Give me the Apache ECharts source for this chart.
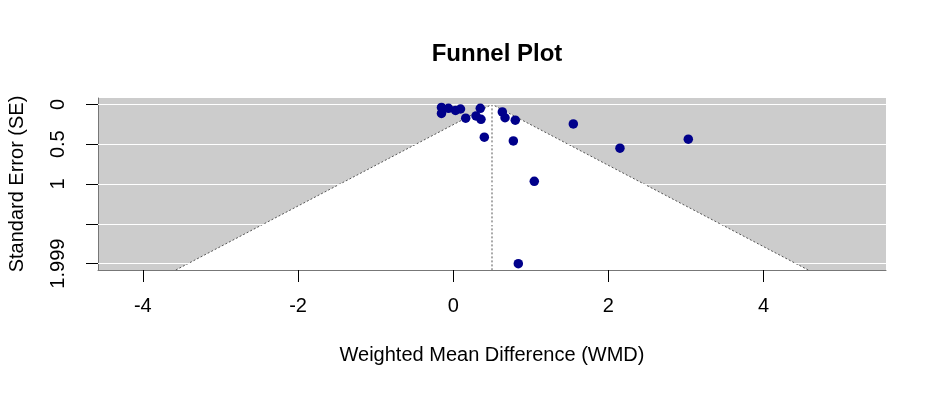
<!DOCTYPE html>
<html>
<head>
<meta charset="utf-8">
<script src="https://cdn.jsdelivr.net/npm/echarts@6/dist/echarts.min.js"></script>
<style>
html,body{margin:0;padding:0;background:#fff;}
#chart{width:937px;height:393px;}
</style>
</head>
<body>
<div id="chart"></div>
<script>
// Study effect sizes (WMD) and standard errors
var wmd = [-0.151, -0.151, -0.061, 0.030, 0.094, 0.161, 0.294, 0.349, 0.358, 0.401,
           0.633, 0.668, 0.800, 0.775, 1.548, 2.149, 3.030, 1.045, 0.839];
var se  = [0.039, 0.114, 0.049, 0.076, 0.058, 0.174, 0.145, 0.049, 0.187, 0.412,
           0.095, 0.168, 0.199, 0.459, 0.246, 0.550, 0.437, 0.966, 1.999];
var pooled = 0.50;           // reference line (pooled estimate)
var crit = 1.96;             // 95% pseudo-confidence region
var xTicks = [-4, -2, 0, 2, 4];
var yTicks = [0, 0.5, 1, 1.5, 1.999];
var yLabels = [0, 0.5, 1, 1.999];
var gridLines = [0, 0.5, 1, 1.5, 1.999];

var seMax = Math.max.apply(null, se);
// R-style limits: funnel xlim widened 10%, then 4% axis expansion
var half = crit * seMax;
var xl0 = pooled - half - 0.1 * 2 * half, xl1 = pooled + half + 0.1 * 2 * half;
var xMin = xl0 - 0.04 * (xl1 - xl0), xMax = xl1 + 0.04 * (xl1 - xl0);
var yMin = -0.04 * seMax, yMax = seMax * 1.04;

var points = wmd.map(function (v, i) { return [v, se[i]]; });
var funnel = [[pooled - crit * yMax, yMax], [pooled, 0], [pooled + crit * yMax, yMax]];
var center = [[pooled, 0], [pooled, yMax]];

var chart = echarts.init(document.getElementById('chart'), null, {renderer: 'canvas'});
var FONT = 'Liberation Sans, Arial, sans-serif';
chart.setOption({
  animation: false,
  backgroundColor: '#ffffff',
  title: {
    text: 'Funnel Plot',
    left: 492, top: 37, textAlign: 'center',
    textStyle: {fontFamily: FONT, fontSize: 24, fontWeight: 'bold', color: '#000'}
  },
  grid: {
    left: 98, top: 98, right: 51, bottom: 123,
    containLabel: false, outerBoundsMode: 'none',
    show: true, backgroundColor: '#cccccc', borderWidth: 0
  },
  xAxis: {
    type: 'value', min: xMin, max: xMax,
    name: 'Weighted Mean Difference (WMD)', nameLocation: 'middle', nameGap: 75,
    nameTextStyle: {fontFamily: FONT, fontSize: 20, color: '#000'},
    axisLine: {show: true, onZero: false, lineStyle: {color: '#777', width: 1}},
    axisTick: {show: true, length: 12, customValues: xTicks, lineStyle: {color: '#000'}},
    axisLabel: {customValues: xTicks, margin: 26, fontFamily: FONT, fontSize: 20, color: '#000'},
    splitLine: {show: false}
  },
  yAxis: {
    type: 'value', inverse: true, min: yMin, max: yMax,
    name: 'Standard Error (SE)', nameLocation: 'middle', nameGap: 71,
    nameTextStyle: {fontFamily: FONT, fontSize: 20, color: '#000'},
    axisLine: {show: true, onZero: false, lineStyle: {color: '#777', width: 1}},
    axisTick: {show: true, length: 12, customValues: yTicks, lineStyle: {color: '#000'}},
    axisLabel: {customValues: yLabels, rotate: 90, margin: 30, fontFamily: FONT, fontSize: 20, color: '#000',
      formatter: function (v) { return String(v); }},
    splitLine: {show: false}
  },
  series: [
    {
      type: 'custom', silent: true, z: 1,
      data: [[pooled, yMax]],
      renderItem: function (params, api) {
        var c = api.value(0), b = api.value(1);
        var pts = [api.coord([c - crit * b, b]), api.coord([c, 0]), api.coord([c + crit * b, b])];
        return {type: 'polygon', shape: {points: pts}, style: {fill: '#ffffff', stroke: null}};
      }
    },
    {
      type: 'line', silent: true, z: 2, data: [], symbol: 'none',
      markLine: {
        silent: true, symbol: 'none', animation: false, label: {show: false},
        lineStyle: {color: '#ffffff', width: 1.2, type: 'solid'},
        data: gridLines.map(function (g) { return {yAxis: g}; })
      }
    },
    {
      type: 'line', silent: true, z: 3, data: funnel, symbol: 'none',
      lineStyle: {color: '#555', width: 1, type: [2, 2]}
    },
    {
      type: 'line', silent: true, z: 3, data: center, symbol: 'none',
      lineStyle: {color: '#555', width: 1, type: [2, 2]}
    },
    {
      type: 'scatter', z: 5, data: points, symbol: 'circle', symbolSize: 9.5,
      itemStyle: {color: '#00008b', opacity: 1}
    }
  ]
});
</script>
</body>
</html>
